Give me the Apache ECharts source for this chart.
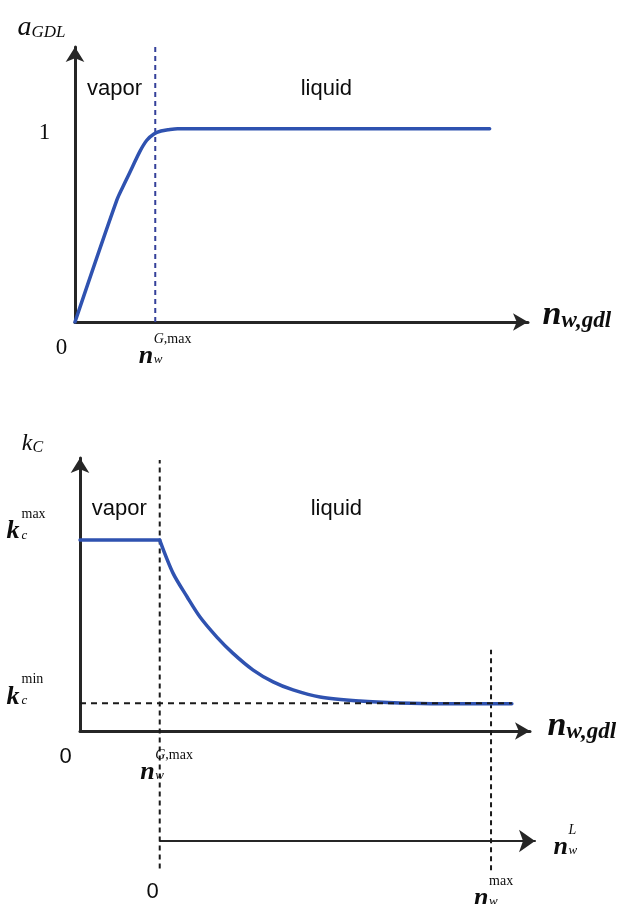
<!DOCTYPE html>
<html>
<head>
<meta charset="utf-8">
<script src="https://cdn.jsdelivr.net/npm/echarts@6/dist/echarts.min.js"></script>
<style>
  html, body { margin: 0; background: #fff; }
  #chart { width: 628px; height: 904px; }
</style>
</head>
<body>
<div id="chart"></div>
<script>
// ---- values (x in arbitrary units) ----
const xMax = 101.6;
const yMax = 1.43;
const nGmax = 18;          // n_w^{G,max}
const nMax = 92.8;         // n_w^{max}
const nLAxisMax = 84.6;    // extent of the n_w^L axis
const nLMax = nMax - nGmax;

// top panel: a_GDL vs n_w,gdl
const topCurveX = [0, 9.4, 11.2, 12.9, 14.5, 16.1, 17.7, 19.3, 21, 23, 93];
const topCurveY = [0, 0.635, 0.725, 0.807, 0.885, 0.945, 0.978, 0.993, 1.0, 1.005, 1.005];
const topGuideY = [0, 1.43];

// bottom panel: k_C vs n_w,gdl
const kcMax = 1;
const kcMin = 0.145;
const plateauX = [0, 18];
const plateauY = [1, 1];
const decayX = [18, 21.0, 24.2, 27.1, 30.9, 34.5, 39.1, 43.6, 48.1, 54.2, 63.2, 72.2, 81.3, 97.5];
const decayY = [1, 0.827, 0.702, 0.597, 0.492, 0.408, 0.319, 0.257, 0.215, 0.178, 0.157, 0.147, 0.143, 0.143];
const gGuideY = [-0.72, 1.42];
const maxGuideY = [-0.73, 0.425];

const regions = ['vapor', 'liquid'];
const zeroText = '0';
const oneText = '1';

// ---- styles ----
const SERIF = '"Liberation Serif", "Times New Roman", serif';
const SANS = '"Liberation Sans", Arial, sans-serif';
const INK = '#0d0d0d';
const BLUE = '#2f52b0';

const rich = {
  axN:   { fontFamily: SERIF, fontStyle: 'italic', fontWeight: 'bold', fontSize: 34, lineHeight: 34, color: INK },
  axSub: { fontFamily: SERIF, fontStyle: 'italic', fontWeight: 'bold', fontSize: 23, lineHeight: 20, verticalAlign: 'bottom', color: INK },
  aN:    { fontFamily: SERIF, fontStyle: 'italic', fontSize: 28, lineHeight: 28, color: INK },
  aSub:  { fontFamily: SERIF, fontStyle: 'italic', fontSize: 17, lineHeight: 16, verticalAlign: 'bottom', color: INK },
  kN:    { fontFamily: SERIF, fontStyle: 'italic', fontSize: 24, lineHeight: 24, color: INK },
  kSub:  { fontFamily: SERIF, fontStyle: 'italic', fontSize: 16, lineHeight: 14, verticalAlign: 'bottom', color: INK },
  gap:   { width: 15, fontSize: 12, lineHeight: 11 },
  sup:   { fontFamily: SERIF, fontSize: 14, lineHeight: 11, verticalAlign: 'bottom', color: INK },
  supI:  { fontFamily: SERIF, fontStyle: 'italic', fontSize: 14, lineHeight: 11, verticalAlign: 'bottom', color: INK },
  base:  { fontFamily: SERIF, fontStyle: 'italic', fontWeight: 'bold', fontSize: 26, lineHeight: 20, width: 15, color: INK },
  sub:   { fontFamily: SERIF, fontStyle: 'italic', fontSize: 13, lineHeight: 12, verticalAlign: 'bottom', color: INK },
  num:   { fontFamily: SERIF, fontSize: 23, color: INK },
  numS:  { fontFamily: SANS, fontSize: 22, color: INK },
  word:  { fontFamily: SANS, fontSize: 22, color: INK }
};

function stacked(base, sub, sup) {
  return '{gap| }' + sup + '\n{base|' + base + '}{sub|' + sub + '}';
}
const nGLabel = stacked('n', 'w', '{supI|G}{sup|,max}');
const nMaxLabel = stacked('n', 'w', '{sup|max}');
const nLLabel = stacked('n', 'w', '{supI|L}');
const kMaxLabel = stacked('k', 'c', '{sup|max}');
const kMinLabel = stacked('k', 'c', '{sup|min}');
const gdlLabel = '{axN|n}{axSub|w,gdl}';

function note(x, y, text, dx, dy, align, vAlign) {
  return {
    value: [x, y],
    label: {
      show: true, formatter: text, position: [0, 0], offset: [dx, dy],
      align: align || 'center', verticalAlign: vAlign || 'middle'
    }
  };
}

function zip(xs, ys) { return xs.map((x, i) => [x, ys[i]]); }

function arrowAxis(max, gridIndex, width, size) {
  return {
    type: 'value', gridIndex: gridIndex, min: 0, max: max,
    axisLine: { show: true, symbol: ['none', 'arrow'], symbolSize: size,
      lineStyle: { color: '#262626', width: width } },
    axisTick: { show: false }, axisLabel: { show: false }, splitLine: { show: false }
  };
}

function noteSeries(xi, yi, data) {
  return {
    type: 'scatter', xAxisIndex: xi, yAxisIndex: yi, symbolSize: 1,
    itemStyle: { color: 'rgba(0,0,0,0)', opacity: 1 }, silent: true, z: 10,
    label: { show: true, rich: rich }, data: data
  };
}

function guide(xi, yi, pts, color, width, dash) {
  return {
    type: 'line', xAxisIndex: xi, yAxisIndex: yi, data: pts, symbol: 'none', clip: false,
    silent: true, z: 3, lineStyle: { color: color, width: width, type: dash }
  };
}

function curve(xi, yi, pts, smooth) {
  return {
    type: 'line', xAxisIndex: xi, yAxisIndex: yi, data: pts, symbol: 'none', z: 4,
    smooth: smooth,
    lineStyle: { color: BLUE, width: 3.5, cap: 'round', join: 'round' }
  };
}

const chart = echarts.init(document.getElementById('chart'), null, { renderer: 'canvas' });

chart.setOption({
  animation: false,
  backgroundColor: '#fff',
  grid: [
    { left: 75, top: 47, width: 453, height: 275 },
    { left: 80, top: 458, width: 450, height: 273 },
    { left: 160, top: 840, width: 375, height: 1 }
  ],
  xAxis: [
    arrowAxis(xMax, 0, 3, [13, 15]),
    arrowAxis(xMax, 1, 3, [13, 15]),
    arrowAxis(nLAxisMax, 2, 2, [17, 16])
  ],
  yAxis: [
    arrowAxis(yMax, 0, 3, [14, 15]),
    arrowAxis(yMax, 1, 3, [14, 15]),
    { type: 'value', gridIndex: 2, min: 0, max: 1, show: false }
  ],
  series: [
    // top panel
    guide(0, 0, [[nGmax, topGuideY[0]], [nGmax, topGuideY[1]]], '#34409a', 2, [5, 4]),
    curve(0, 0, zip(topCurveX, topCurveY), 0.3),
    noteSeries(0, 0, [
      note(0, yMax, '{aN|a}{aSub|GDL}', -33, -19),
      note(0, 1, '{num|' + oneText + '}', -30, 4),
      note(0, 0, '{num|' + zeroText + '}', -13, 26),
      note(nGmax, 0, nGLabel, -16, 14, 'left', 'top'),
      note(xMax, 0, gdlLabel, 15, -6, 'left', 'middle'),
      note(9, 1.21, '{word|' + regions[0] + '}', 0, 0),
      note(56.5, 1.21, '{word|' + regions[1] + '}', 0, 0)
    ]),
    // bottom panel
    curve(1, 1, zip(plateauX, plateauY), false),
    curve(1, 1, zip(decayX, decayY), 0.3),
    guide(1, 1, [[nGmax, gGuideY[0]], [nGmax, gGuideY[1]]], '#1a1a1a', 2, [5, 4]),
    guide(1, 1, [[nMax, maxGuideY[0]], [nMax, maxGuideY[1]]], '#1a1a1a', 2, [5, 4]),
    Object.assign(guide(1, 1, [[0, kcMin], [decayX[decayX.length - 1], kcMin]], '#1a1a1a', 2, [6, 5]), { z: 5 }),
    noteSeries(1, 1, [
      note(0, yMax, '{kN|k}{kSub|C}', -47, -14),
      note(0, kcMax, kMaxLabel, -73, -29, 'left', 'top'),
      note(0, kcMin, kMinLabel, -73, -27, 'left', 'top'),
      note(0, 0, '{numS|' + zeroText + '}', -14, 26),
      note(nGmax, 0, nGLabel, -19, 21, 'left', 'top'),
      note(xMax, 0, gdlLabel, 18, -4, 'left', 'middle'),
      note(9, 1.16, '{word|' + regions[0] + '}', 0, 0),
      note(58, 1.16, '{word|' + regions[1] + '}', 0, 0)
    ]),
    // n_w^L axis
    noteSeries(2, 2, [
      note(0, 0, '{numS|' + zeroText + '}', -7, 51),
      note(nLMax, 0, nMaxLabel, -17, 37, 'left', 'top'),
      note(nLAxisMax, 0, nLLabel, 19, -14, 'left', 'top')
    ])
  ]
});
</script>
</body>
</html>
